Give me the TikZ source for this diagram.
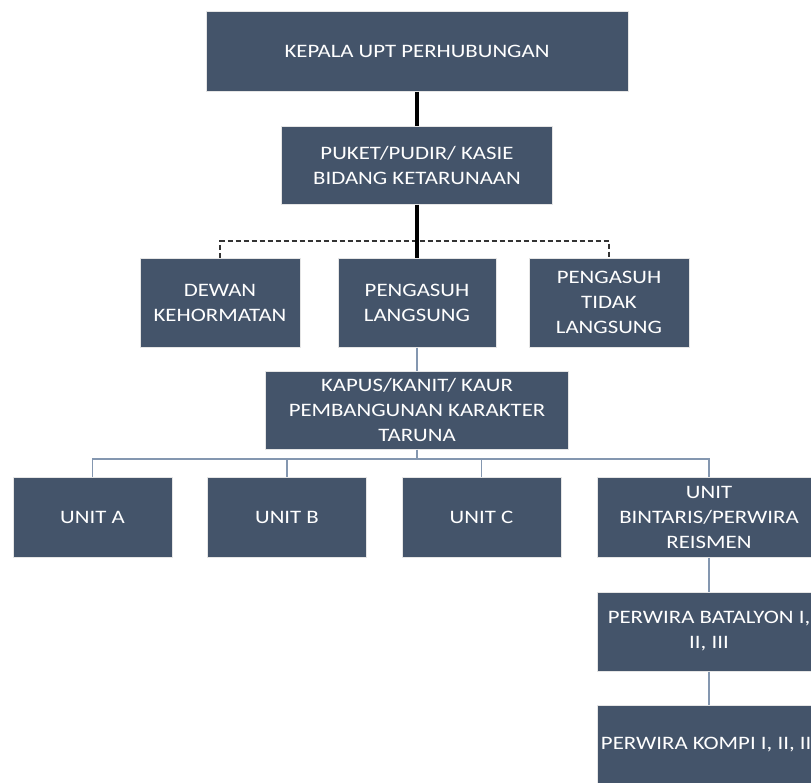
\documentclass[tikz,border=0pt]{standalone}
\usepackage{fontspec}
\setmainfont{Carlito}[FakeStretch=1.2]
\usetikzlibrary{calc}
\definecolor{boxcol}{HTML}{44546A}
\definecolor{linecol}{HTML}{8497B0}
\tikzstyle{orgbox}=[draw=white!80!gray, line width=1pt, fill=boxcol, text=white, align=center, inner sep=0pt, font=\fontsize{19}{25}\selectfont]
\tikzstyle{thinline}=[linecol, line width=1.5pt]
\tikzstyle{thickline}=[black, line width=4pt]
\tikzstyle{dashline}=[black!80, line width=1.5pt, dash pattern=on 5pt off 3pt]

\begin{document}
\begin{tikzpicture}[x=1pt,y=-1pt]
\useasboundingbox (0,0) rectangle (811,782);
\clip (0,0) rectangle (811,782);

% top of the chart
\node[orgbox, minimum width=422, minimum height=80] (kepala) at (417,51) {KEPALA UPT PERHUBUNGAN};
\node[orgbox, minimum width=271, minimum height=78] (puket) at (417,165) {PUKET/PUDIR/ KASIE\\BIDANG KETARUNAAN};

% second row
\node[orgbox, minimum width=160, minimum height=89] (dewan) at (220,302.5) {DEWAN\\KEHORMATAN};
\node[orgbox, minimum width=158, minimum height=89] (langsung) at (417,302.5) {PENGASUH\\LANGSUNG};
\node[orgbox, minimum width=160, minimum height=89] (tidak) at (609,302.5) {PENGASUH\\TIDAK\\LANGSUNG};

\node[orgbox, minimum width=303, minimum height=78] (kapus) at (417,410) {KAPUS/KANIT/ KAUR\\PEMBANGUNAN KARAKTER\\TARUNA};

% units
\node[orgbox, minimum width=159, minimum height=80] (unita) at (92.5,517) {UNIT A};
\node[orgbox, minimum width=159, minimum height=80] (unitb) at (287,517) {UNIT B};
\node[orgbox, minimum width=159, minimum height=80] (unitc) at (481.5,517) {UNIT C};
\node[orgbox, minimum width=224, minimum height=80] (unitd) at (709,517) {UNIT\\BINTARIS/PERWIRA\\REISMEN};

\node[orgbox, minimum width=224, minimum height=79] (batalyon) at (709,631.5) {PERWIRA BATALYON I,\\II, III};
\node[orgbox, minimum width=224, minimum height=80] (kompi) at (709,745) {PERWIRA KOMPI I, II, III};

% connectors
\coordinate (dash) at (417,241);
\coordinate (bus) at (417,459);
\draw[dashline] (dewan.north) |- (dash) -| (tidak.north);
\draw[thickline] (kepala.south) -- (puket.north);
\draw[thickline] (puket.south) -- (langsung.north);
\draw[thinline] (langsung.south) -- (kapus.north);
\draw[thinline] (kapus.south) -- (bus);
\foreach \u in {unita,unitb,unitc,unitd}
  \draw[thinline] (\u.north) |- (bus);
\draw[thinline] (unitd.south) -- (batalyon.north);
\draw[thinline] (batalyon.south) -- (kompi.north);

\end{tikzpicture}
\end{document}
